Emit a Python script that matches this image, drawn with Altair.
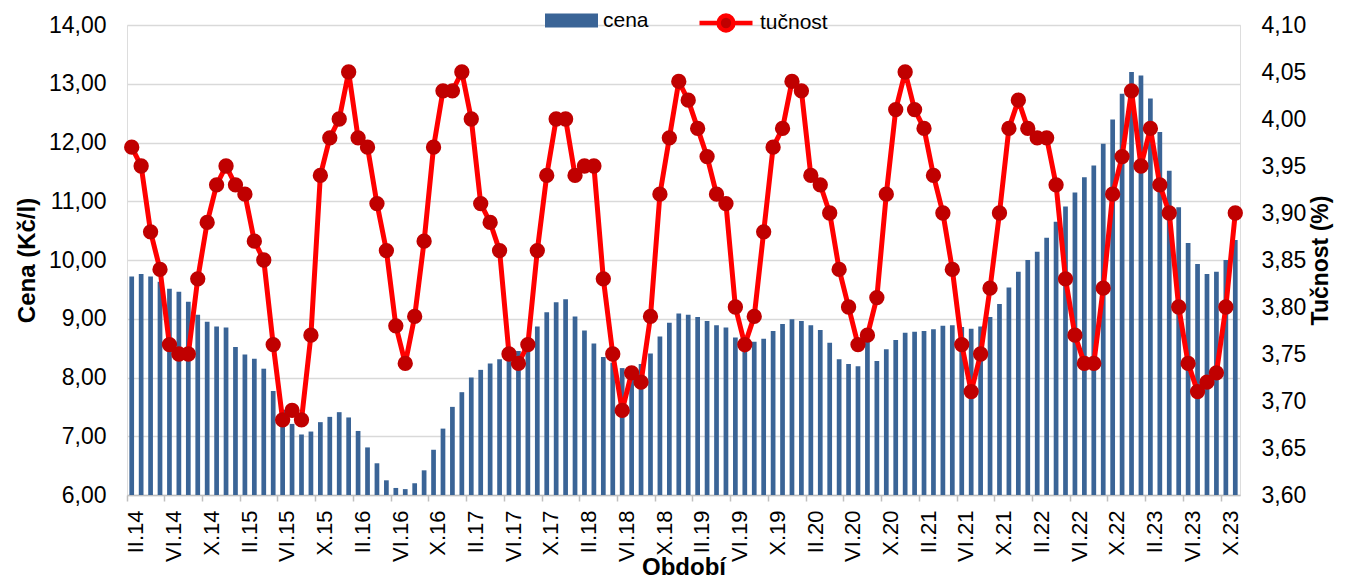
import altair as alt
import pandas as pd

roman = ["I", "II", "III", "IV", "V", "VI", "VII", "VIII", "IX", "X", "XI", "XII"]

# Období: II.14 ... XI.23 (118 months)
obdobi = []
m, y = 2, 14
for _ in range(118):
    obdobi.append(f"{roman[m - 1]}.{y}")
    m += 1
    if m > 12:
        m, y = 1, y + 1

tick_labels = obdobi[::4]

cena = [
    9.72, 9.76, 9.72, 9.63, 9.51, 9.46, 9.29, 9.07, 8.95, 8.87, 8.85,
    8.52, 8.39, 8.32, 8.15, 7.77, 7.45, 7.21, 7.03, 7.08, 7.24, 7.33, 7.41,
    7.32, 7.09, 6.81, 6.54, 6.25, 6.12, 6.10, 6.20, 6.42, 6.77, 7.13, 7.50,
    7.75, 8.00, 8.13, 8.24, 8.31, 8.40, 8.45, 8.55, 8.87, 9.11, 9.28, 9.33,
    9.04, 8.80, 8.58, 8.35, 8.25, 8.16, 8.18, 8.23, 8.41, 8.70, 8.93, 9.09,
    9.07, 9.03, 8.96, 8.89, 8.85, 8.68, 8.62, 8.61, 8.66, 8.79, 8.91, 8.99,
    8.96, 8.89, 8.81, 8.59, 8.31, 8.23, 8.19, 8.65, 8.28, 8.48, 8.64, 8.76,
    8.78, 8.79, 8.82, 8.88, 8.89, 8.86, 8.83, 8.87, 9.03, 9.25, 9.53, 9.80,
    10.00, 10.14, 10.38, 10.65, 10.91, 11.15, 11.41, 11.61, 11.98, 12.39, 12.83,
    13.20, 13.14, 12.75, 12.18, 11.52, 10.90, 10.29, 9.93, 9.76, 9.80, 10.00,
    10.34,
]

tucnost = [
    3.97, 3.95, 3.88, 3.84, 3.76, 3.75, 3.75, 3.83, 3.89, 3.93, 3.95,
    3.93, 3.92, 3.87, 3.85, 3.76, 3.68, 3.69, 3.68, 3.77, 3.94, 3.98, 4.00,
    4.05, 3.98, 3.97, 3.91, 3.86, 3.78, 3.74, 3.79, 3.87, 3.97, 4.03, 4.03,
    4.05, 4.00, 3.91, 3.89, 3.86, 3.75, 3.74, 3.76, 3.86, 3.94, 4.00, 4.00,
    3.94, 3.95, 3.95, 3.83, 3.75, 3.69, 3.73, 3.72, 3.79, 3.92, 3.98, 4.04,
    4.02, 3.99, 3.96, 3.92, 3.91, 3.80, 3.76, 3.79, 3.88, 3.97, 3.99, 4.04,
    4.03, 3.94, 3.93, 3.90, 3.84, 3.80, 3.76, 3.77, 3.81, 3.92, 4.01, 4.05,
    4.01, 3.99, 3.94, 3.90, 3.84, 3.76, 3.71, 3.75, 3.82, 3.90, 3.99, 4.02,
    3.99, 3.98, 3.98, 3.93, 3.83, 3.77, 3.74, 3.74, 3.82, 3.92, 3.96, 4.03,
    3.95, 3.99, 3.93, 3.90, 3.80, 3.74, 3.71, 3.72, 3.73, 3.80, 3.90,
]

left_ticks = [6, 7, 8, 9, 10, 11, 12, 13, 14]
right_ticks = [3.60, 3.65, 3.70, 3.75, 3.80, 3.85, 3.90, 3.95, 4.00, 4.05, 4.10]

BLUE = "#3A6496"
RED = "#FF0000"
DARKRED = "#C00000"
FONT = "Liberation Sans"
GRID = "#D9D9D9"

df = pd.DataFrame({
    "obdobi": obdobi,
    "cena": cena,
    "tucnost": tucnost,
    "s1": "cena",
    "s2": "tučnost",
})

comma = "replace(format(datum.value, '.2f'), '.', ',')"

x_enc = alt.X(
    "obdobi:N",
    sort=obdobi,
    scale=alt.Scale(paddingInner=0, paddingOuter=0),
    axis=alt.Axis(
        values=tick_labels,
        labelAngle=-90,
        bandPosition=0,
        labelOffset=4.72,
        labelFontSize=22,
        labelFont=FONT,
        labelColor="#000000",
        labelPadding=9,
        tickSize=6,
        tickColor="#BFBFBF",
        tickWidth=1.5,
        domainColor="#BFBFBF",
        domainWidth=1.5,
        grid=False,
        title="Období",
        titleFont=FONT,
        titleFontSize=24,
        titleFontWeight="bold",
        titleColor="#000000",
        titleBaseline="alphabetic",
        titleY=79,
    ),
)

bars = alt.Chart(df).mark_bar(width=alt.RelativeBandSize(0.5)).encode(
    x=x_enc,
    y=alt.Y(
        "cena:Q",
        scale=alt.Scale(domain=[6, 14], zero=False, nice=False),
        axis=alt.Axis(
            orient="left",
            values=left_ticks,
            labelExpr=comma,
            labelFontSize=23,
            labelFont=FONT,
            labelColor="#000000",
            labelPadding=21,
            ticks=False,
            domain=False,
            grid=True,
            gridColor=GRID,
            gridWidth=1.5,
            title="Cena (Kč/l)",
            titleFont=FONT,
            titleFontSize=24,
            titleFontWeight="bold",
            titleColor="#000000",
            titlePadding=9,
        ),
    ),
    y2=alt.datum(6),
    color=alt.Color(
        "s1:N",
        scale=alt.Scale(domain=["cena"], range=[BLUE]),
        legend=alt.Legend(
            orient="none",
            legendX=418,
            legendY=-31,
            title=None,
            symbolType="M-1,-0.264L1,-0.264L1,0.264L-1,0.264Z",
            symbolSize=2809,
            symbolStrokeWidth=0,
            labelFontSize=21,
            labelFont=FONT,
            labelColor="#000000",
            labelOffset=5,
            padding=0,
        ),
    ),
)

y2_scale = alt.Scale(domain=[3.6, 4.1], zero=False, nice=False)
y2_axis = alt.Axis(
    orient="right",
    values=right_ticks,
    labelExpr=comma,
    labelFontSize=23,
    labelFont=FONT,
    labelColor="#000000",
    labelPadding=21,
    ticks=False,
    domain=False,
    grid=False,
    title="Tučnost (%)",
    titleFont=FONT,
    titleFontSize=23,
    titleFontWeight="bold",
    titleColor="#000000",
    titleAngle=-90,
    titleBaseline="top",
    titlePadding=4,
)

line = alt.Chart(df).mark_line(strokeWidth=5).encode(
    x=x_enc,
    y=alt.Y("tucnost:Q", scale=y2_scale, axis=y2_axis),
    stroke=alt.Stroke(
        "s2:N",
        scale=alt.Scale(domain=["tučnost"], range=[RED]),
        legend=alt.Legend(
            orient="none",
            legendX=570,
            legendY=-31,
            title=None,
            symbolType="M-1,0L-0.3,0M0.3,0L1,0M0.28,0A0.28,0.28,0,1,1,-0.28,0A0.28,0.28,0,1,1,0.28,0Z",
            symbolSize=2809,
            symbolStrokeWidth=4.5,
            symbolFillColor=DARKRED,
            labelFontSize=21,
            labelFont=FONT,
            labelColor="#000000",
            labelOffset=5,
            padding=0,
        ),
    ),
)

points = alt.Chart(df).mark_circle(size=235, color=DARKRED, opacity=1).encode(
    x=x_enc,
    y=alt.Y("tucnost:Q", scale=y2_scale, axis=y2_axis),
)

chart = (
    alt.layer(bars, alt.layer(line, points))
    .resolve_scale(y="independent", color="independent", stroke="independent")
    .properties(
        width=1113,
        height=470,
        autosize=alt.AutoSizeParams(type="none"),
        padding={"left": 119, "top": 17, "right": 99, "bottom": 84},
    )
    .configure_view(stroke=None)
    .configure(background="white")
)

chart.save("out.html", embed_options={"renderer": "svg", "actions": False})
